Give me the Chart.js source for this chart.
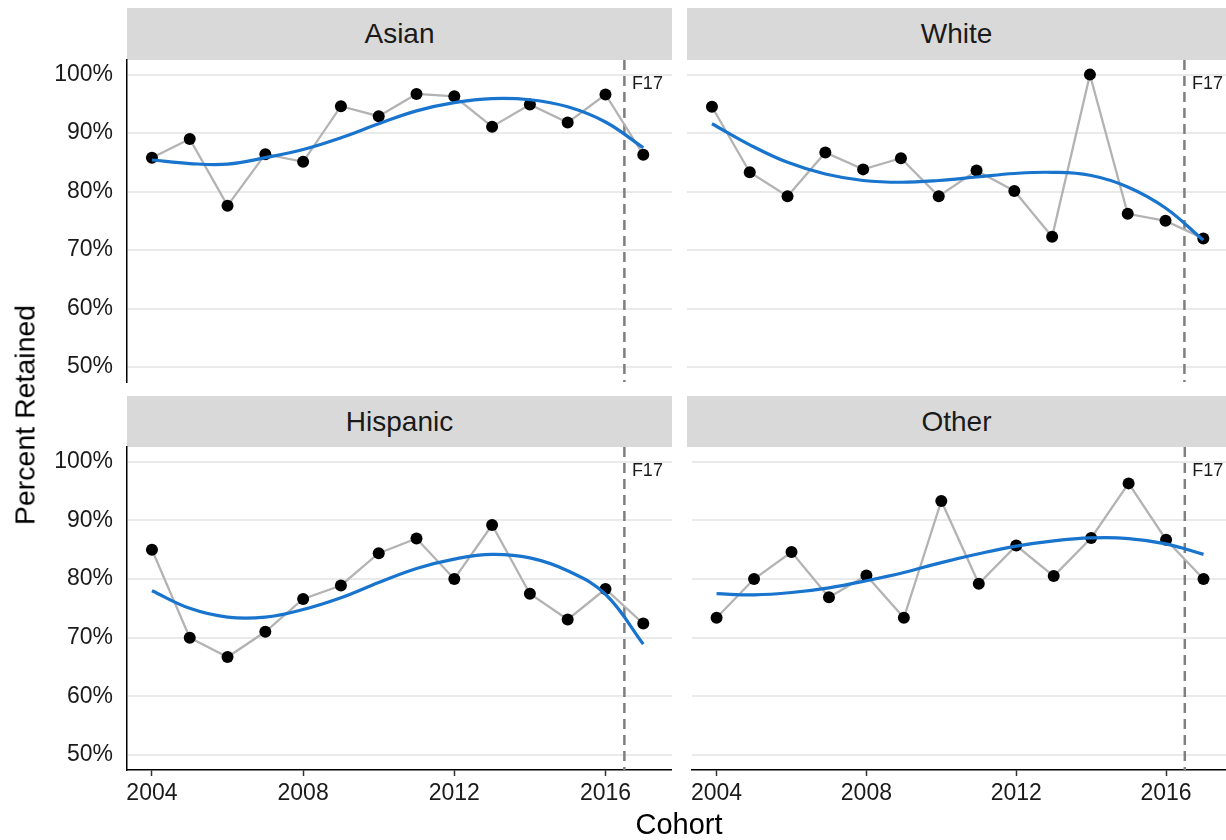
<!DOCTYPE html>
<html><head><meta charset="utf-8">
<script src="https://cdn.jsdelivr.net/npm/chart.js@4.4.1/dist/chart.umd.min.js"></script>
<style>
html,body{margin:0;padding:0;background:#fff;}
body{width:1226px;height:840px;overflow:hidden;position:relative;font-family:"Liberation Sans",Arial,Helvetica,sans-serif;color:#000;}
.strip{position:absolute;background:#D9D9D9;color:#1A1A1A;font-size:28px;display:flex;align-items:center;justify-content:center;}
.panel{position:absolute;}
.panel canvas{display:block;}
#ytitle{position:absolute;left:25px;top:415px;transform:translate(-50%,-50%) rotate(-90deg);font-size:28.5px;white-space:nowrap;}
#xtitle{position:absolute;left:679px;top:824px;transform:translate(-50%,-50%);font-size:29px;white-space:nowrap;}
</style>
</head><body>
<div class="strip" style="left:127px;top:8px;width:545px;height:52px;">Asian</div>
<div class="strip" style="left:687px;top:8px;width:539px;height:52px;">White</div>
<div class="strip" style="left:127px;top:396px;width:545px;height:51px;">Hispanic</div>
<div class="strip" style="left:687px;top:396px;width:539px;height:51px;">Other</div>
<div class="panel" style="left:0;top:20px;"><canvas id="c1" width="672" height="402"></canvas></div>
<div class="panel" style="left:687px;top:20px;"><canvas id="c2" width="539" height="402"></canvas></div>
<div class="panel" style="left:0;top:407px;"><canvas id="c3" width="672" height="433"></canvas></div>
<div class="panel" style="left:687px;top:407px;"><canvas id="c4" width="539" height="433"></canvas></div>
<div id="ytitle">Percent Retained</div>
<div id="xtitle">Cohort</div>
<script>
// ---- data ----
const years = [2004, 2005, 2006, 2007, 2008, 2009, 2010, 2011, 2012, 2013, 2014, 2015, 2016, 2017];
const asian = [85.8, 89.0, 77.6, 86.4, 85.1, 94.6, 92.9, 96.7, 96.3, 91.1, 94.9, 91.8, 96.6, 86.3];
const asianFit = [85.4, 84.8, 84.7, 85.8, 87.2, 89.2, 91.6, 93.8, 95.2, 95.9, 95.7, 94.5, 91.9, 87.5];
const white = [94.5, 83.3, 79.2, 86.7, 83.8, 85.7, 79.2, 83.6, 80.1, 72.3, 100.0, 76.2, 75.0, 72.0];
const whiteFit = [91.6, 88.0, 85.0, 83.0, 81.9, 81.6, 81.9, 82.5, 83.1, 83.3, 82.8, 80.8, 77.2, 71.7];
const hispanic = [85.0, 70.0, 66.7, 71.0, 76.6, 78.9, 84.4, 86.9, 80.0, 89.2, 77.5, 73.1, 78.3, 72.4];
const hispanicFit = [78.0, 75.0, 73.5, 73.5, 74.8, 76.8, 79.4, 81.8, 83.4, 84.2, 83.6, 81.4, 77.4, 68.9];
const other = [73.4, 80.0, 84.6, 76.9, 80.6, 73.4, 93.3, 79.2, 85.7, 80.5, 87.0, 96.3, 86.7, 80.0];
const otherFit = [77.5, 77.3, 77.7, 78.5, 79.7, 81.1, 82.8, 84.3, 85.6, 86.5, 87.0, 86.9, 86.0, 84.2];
const yTicks = [50, 60, 70, 80, 90, 100];
const xTicks = [2004, 2008, 2012, 2016];
const vlineX = 2016.5;
const vlineLabel = "F17";
const vlineLabelY = 98.4;

// ---- drawing ----
const FONT = "'Liberation Sans', Arial, Helvetica, sans-serif";
const vlinePlugin = {
  id: 'vline',
  beforeDatasetsDraw(chart) {
    const {ctx, chartArea, scales} = chart;
    const x = scales.x.getPixelForValue(vlineX);
    ctx.save();
    ctx.strokeStyle = '#7F7F7F';
    ctx.lineWidth = 2.5;
    ctx.setLineDash([10, 6]);
    ctx.beginPath();
    ctx.moveTo(x, chartArea.top);
    ctx.lineTo(x, chartArea.bottom);
    ctx.stroke();
    ctx.restore();
  },
  afterDatasetsDraw(chart) {
    const {ctx, scales} = chart;
    const x = scales.x.getPixelForValue(vlineX);
    const y = scales.y.getPixelForValue(vlineLabelY);
    ctx.save();
    ctx.fillStyle = '#1A1A1A';
    ctx.font = '18px ' + FONT;
    ctx.textAlign = 'left';
    ctx.textBaseline = 'middle';
    ctx.fillText(vlineLabel, x + 7.5, y);
    ctx.restore();
  }
};

function makeChart(id, vals, fit, showY, showX, xMax) {
  const pts = years.map((yr, i) => ({x: yr, y: vals[i]}));
  const fitPts = years.map((yr, i) => ({x: yr, y: fit[i]}));
  new Chart(document.getElementById(id), {
    type: 'line',
    data: {
      datasets: [
        {data: fitPts, borderColor: '#1874CD', borderWidth: 3.2, pointRadius: 0, tension: 0.4, order: 0, fill: false},
        {data: pts, borderColor: '#B3B3B3', borderWidth: 2.3, tension: 0, order: 1, fill: false,
         pointRadius: 6, pointBackgroundColor: '#000', pointBorderColor: '#000', pointBorderWidth: 0}
      ]
    },
    options: {
      responsive: false,
      devicePixelRatio: 1,
      animation: false,
      layout: {autoPadding: false, padding: {top: 40, bottom: showX ? 0 : 40, left: 0, right: 0}},
      plugins: {legend: {display: false}, tooltip: {enabled: false}},
      scales: {
        x: {
          type: 'linear', min: 2003.34, max: xMax,
          display: showX,
          afterBuildTicks: s => { s.ticks = xTicks.map(v => ({value: v})); },
          afterFit: s => { if (showX) s.height = 70; },
          grid: {display: true, drawOnChartArea: false, drawTicks: true, tickLength: 6, tickColor: '#333', tickWidth: 1.5},
          border: {display: true, color: '#000', width: 1.5},
          ticks: {color: '#1A1A1A', font: {family: FONT, size: 23}, padding: 4, maxRotation: 0, autoSkip: false, callback: v => String(v)}
        },
        y: {
          type: 'linear', min: 47.45, max: 102.5,
          afterBuildTicks: s => { s.ticks = yTicks.map(v => ({value: v})); },
          afterFit: s => { s.width = showY ? 127 : 0; },
          grid: {color: '#EAEAEA', lineWidth: 2, drawTicks: false},
          border: {display: showY, color: '#000', width: 1.5},
          ticks: {display: showY, color: '#1A1A1A', font: {family: FONT, size: 23}, padding: 14, callback: v => v + '%'}
        }
      }
    },
    plugins: [vlinePlugin]
  });
}

makeChart('c1', asian, asianFit, true, false, 2017.76);
makeChart('c2', white, whiteFit, false, false, 2017.6);
makeChart('c3', hispanic, hispanicFit, true, true, 2017.76);
makeChart('c4', other, otherFit, false, true, 2017.6);
</script>
</body></html>
